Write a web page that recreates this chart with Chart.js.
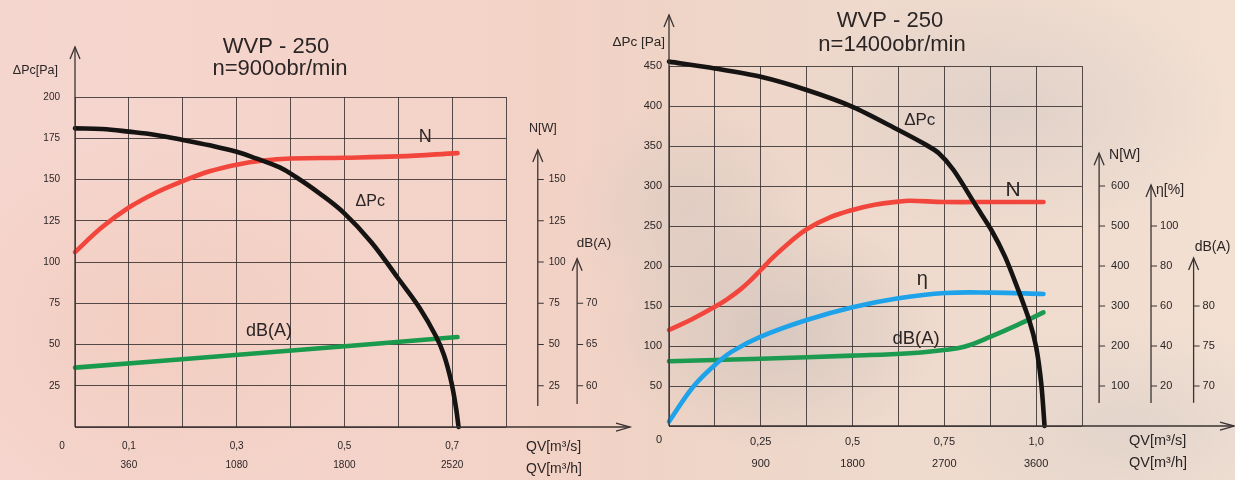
<!DOCTYPE html>
<html><head><meta charset="utf-8">
<script src="https://cdn.jsdelivr.net/npm/chart.js@4"></script>
<style>
html,body{margin:0;padding:0;}
body{width:1235px;height:480px;overflow:hidden;position:relative;font-family:"Liberation Sans",Arial,sans-serif;
background:
 radial-gradient(ellipse 170px 120px at 770px 330px, rgba(196,186,182,0.55), rgba(196,186,182,0) 100%),
 radial-gradient(ellipse 120px 110px at 690px 210px, rgba(205,195,190,0.45), rgba(205,195,190,0) 100%),
 radial-gradient(ellipse 220px 130px at 1010px 110px, rgba(208,198,194,0.5), rgba(208,198,194,0) 100%),
 radial-gradient(ellipse 200px 110px at 1130px 430px, rgba(212,203,198,0.5), rgba(212,203,198,0) 100%),
 radial-gradient(ellipse 260px 200px at 150px 330px, rgba(240,196,178,0.45), rgba(240,196,178,0) 100%),
 linear-gradient(90deg, #f5d6cf 0%, #f3d2c6 45%, #efd4c6 53%, #eed9cc 70%, #f2e0d3 100%);
}
canvas{position:absolute;top:0;}
#cl{left:0}
#cr{left:600px}
</style></head><body>
<canvas id="cl" width="640" height="480"></canvas>
<canvas id="cr" width="635" height="480"></canvas>
<script>
// ---------- Left panel: WVP-250, n=900 obr/min ----------
const leftQGrid = [0, 0.1, 0.2, 0.3, 0.4, 0.5, 0.6, 0.7, 0.8];
const leftQsLabels = ['', '0,1', '', '0,3', '', '0,5', '', '0,7', ''];
const leftQhLabels = ['', '360', '', '1080', '', '1800', '', '2520', ''];
const leftPaTicks = [0, 25, 50, 75, 100, 125, 150, 175, 200];
const leftNTicks = [25, 50, 75, 100, 125, 150];
const leftDbTicks = [60, 65, 70];
const leftPcQ = [0, 0.05, 0.1, 0.15, 0.2, 0.25, 0.3, 0.336, 0.38, 0.41, 0.45, 0.5, 0.55, 0.6, 0.64, 0.67, 0.685, 0.698, 0.707, 0.712];
const leftPc  = [181, 180.6, 179, 177, 174, 170.7, 166.8, 162.8, 157.3, 151.5, 142.5, 129.5, 112, 90, 72, 55, 43.5, 28, 12, 0];
const leftNQ = [0, 0.05, 0.1, 0.15, 0.2, 0.25, 0.3, 0.35, 0.4, 0.5, 0.6, 0.71];
const leftN  = [106, 121, 133, 142, 149, 155, 159, 161.5, 162.7, 163.2, 164, 166];
const leftDbQ = [0, 0.35, 0.71];
const leftDb  = [62.2, 64.0, 65.9];

// ---------- Right panel: WVP-250, n=1400 obr/min ----------
const rightQGrid = [0, 0.125, 0.25, 0.375, 0.5, 0.625, 0.75, 0.875, 1.0, 1.125];
const rightQsLabels = ['', '', '0,25', '', '0,5', '', '0,75', '', '1,0', ''];
const rightQhLabels = ['', '', '900', '', '1800', '', '2700', '', '3600', ''];
const rightPaTicks = [0, 50, 100, 150, 200, 250, 300, 350, 400, 450];
const rightNTicks = [100, 200, 300, 400, 500, 600];
const rightEtaTicks = [20, 40, 60, 80, 100];
const rightDbTicks = [70, 75, 80];
const rightPcQ = [0, 0.125, 0.25, 0.375, 0.5, 0.625, 0.694, 0.735, 0.775, 0.838, 0.878, 0.915, 0.948, 0.981, 1.0, 1.014, 1.023];
const rightPc  = [455.5, 447, 436.5, 420, 399, 370, 353, 341, 320, 274, 245, 212, 174, 132.5, 99, 53, 0];
const rightNQ = [0, 0.0625, 0.125, 0.16, 0.194, 0.22, 0.25, 0.284, 0.33, 0.375, 0.44, 0.5, 0.56, 0.625, 0.656, 0.75, 0.878, 1.02];
const rightN  = [240, 267, 298, 318, 341, 362, 390, 422, 460, 492, 522, 540, 553, 561, 563, 560, 560, 560];
const rightEtaQ = [0, 0.066, 0.125, 0.171, 0.25, 0.375, 0.5, 0.625, 0.753, 0.878, 1.02];
const rightEta  = [2.2, 19.6, 30.5, 37.2, 44.7, 53, 59.4, 63.9, 66.5, 66.7, 66];
const rightDbQ = [0, 0.25, 0.5, 0.656, 0.75, 0.804, 0.878, 0.948, 1.02];
const rightDb  = [73.1, 73.4, 73.8, 74.1, 74.5, 74.9, 76.2, 77.6, 79.2];

const pts = (xs, ys) => xs.map((x, i) => ({x: x, y: ys[i]}));
const FONT = '"Liberation Sans", Arial, sans-serif';
const GRID = 'rgba(55,48,48,0.85)';
const INK = '#2b2525';

function line(ctx, x1, y1, x2, y2) { ctx.beginPath(); ctx.moveTo(x1, y1); ctx.lineTo(x2, y2); ctx.stroke(); }
function arrowUp(ctx, x, y) { ctx.beginPath(); ctx.moveTo(x - 5, y + 12); ctx.lineTo(x, y); ctx.lineTo(x + 5, y + 12); ctx.stroke(); }
function arrowRight(ctx, x, y) { ctx.beginPath(); ctx.moveTo(x - 14, y - 4); ctx.lineTo(x, y); ctx.lineTo(x - 14, y + 4); ctx.stroke(); }

function decorPlugin(cfg) {
  return {
    id: 'decor',
    afterDraw(chart) {
      const ctx = chart.ctx, xs = chart.scales.x, ys = chart.scales.y;
      ctx.save();
      ctx.strokeStyle = '#3a3333'; ctx.lineWidth = 1.3; ctx.fillStyle = INK;
      const x0 = xs.getPixelForValue(0), y0 = ys.getPixelForValue(0);
      line(ctx, x0, y0, x0, cfg.yArrowTop); arrowUp(ctx, x0, cfg.yArrowTop);
      line(ctx, x0, y0, cfg.xArrowEnd, y0); arrowRight(ctx, cfg.xArrowEnd, y0);
      cfg.axes.forEach(a => {
        const sc = chart.scales[a.scale];
        const ax = xs.getPixelForValue(a.at);
        const yb = sc.getPixelForValue(a.from), yt = sc.getPixelForValue(a.to);
        ctx.lineWidth = 1.3;
        line(ctx, ax, yb, ax, yt); arrowUp(ctx, ax, yt);
        ctx.font = a.font + 'px ' + FONT; ctx.textAlign = 'left'; ctx.textBaseline = 'middle';
        a.ticks.forEach(t => {
          const py = sc.getPixelForValue(t);
          ctx.lineWidth = 1; line(ctx, ax, py, ax + 6, py);
          ctx.fillText(String(t), ax + a.gap, py);
        });
        ctx.font = a.tfont + 'px ' + FONT; ctx.textAlign = a.talign;
        ctx.fillText(a.title, ax + a.tdx, yt + a.tdy);
      });
      cfg.texts.forEach(t => {
        ctx.font = t.size + 'px ' + FONT; ctx.textAlign = t.align; ctx.textBaseline = 'middle';
        ctx.fillStyle = t.color || INK;
        ctx.fillText(t.text, t.x, t.y);
      });
      cfg.curveLabels.forEach(t => {
        ctx.font = t.size + 'px ' + FONT; ctx.textAlign = 'center'; ctx.textBaseline = 'middle';
        ctx.fillStyle = INK;
        ctx.fillText(t.text, xs.getPixelForValue(t.q), ys.getPixelForValue(t.pa));
      });
      ctx.restore();
    }
  };
}

function ds(label, data, color, axis, tension) {
  return {label, data, yAxisID: axis, borderColor: color, borderWidth: 4.6, pointRadius: 0, clip: false,
    tension: tension, capBezierPoints: false, fill: false, borderCapStyle: 'round', borderJoinStyle: 'round'};
}

function makeChart(id, o) {
  const scales = {
    x: {type: 'linear', min: o.xGrid[0], max: o.xGrid[o.xGrid.length - 1],
      afterBuildTicks: s => { s.ticks = o.xGrid.map(v => ({value: v})); },
      afterFit: s => { s.height = o.xHeight; },
      ticks: {autoSkip: false, maxRotation: 0, minRotation: 0, padding: o.xPad, color: INK,
        font: {family: FONT, size: o.xFont, lineHeight: o.xLine},
        callback: (v, i) => o.qs[i] ? [o.qs[i], o.qh[i]] : ''},
      grid: {color: GRID, lineWidth: 1, drawTicks: false}, border: {display: false}},
    y: {type: 'linear', min: o.yTicks[0], max: o.yTicks[o.yTicks.length - 1],
      afterBuildTicks: s => { s.ticks = o.yTicks.map(v => ({value: v})); },
      afterFit: s => { s.width = o.yWidth; },
      ticks: {padding: o.yPad, color: INK, font: {family: FONT, size: o.yFont},
        callback: v => v === 0 ? '' : String(v)},
      grid: {color: GRID, lineWidth: 1, drawTicks: false}, border: {display: false}}
  };
  Object.assign(scales, o.hidden);
  return new Chart(document.getElementById(id), {
    type: 'line',
    data: {datasets: o.datasets},
    options: {
      responsive: false, animation: false, devicePixelRatio: 1,
      layout: {padding: o.padding},
      plugins: {legend: {display: false}, tooltip: {enabled: false}, title: {display: false}},
      scales: scales
    },
    plugins: [decorPlugin(o.decor)]
  });
}

// Left chart: N[W] axis shares the Pa scale numerically; dB(A): 0 Pa -> 55, 200 Pa -> 95
makeChart('cl', {
  xGrid: leftQGrid, qs: leftQsLabels, qh: leftQhLabels, yTicks: leftPaTicks,
  xHeight: 53, yWidth: 75, xPad: 9.5, xFont: 10, xLine: 1.9, yPad: 15, yFont: 10,
  padding: {left: 0, right: 134, top: 97, bottom: 0},
  hidden: {
    yN: {display: false, min: 0, max: 200},
    yDb: {display: false, min: 55, max: 95}
  },
  datasets: [
    ds('ΔPc', pts(leftPcQ, leftPc), '#161313', 'y', 0.4),
    ds('N', pts(leftNQ, leftN), '#f2463d', 'yN', 0.4),
    ds('dB(A)', pts(leftDbQ, leftDb), '#199a4c', 'yDb', 0.3)
  ],
  decor: {
    yArrowTop: 47, xArrowEnd: 630,
    axes: [
      {scale: 'yN', at: 0.859, from: 12.7, to: 167.9, ticks: leftNTicks, font: 10, gap: 11, title: 'N[W]', tfont: 12.5, talign: 'center', tdx: 5, tdy: -21},
      {scale: 'yDb', at: 0.932, from: 57.8, to: 75.4, ticks: leftDbTicks, font: 10, gap: 9, title: 'dB(A)', tfont: 13.5, talign: 'center', tdx: 17, tdy: -15}
    ],
    texts: [
      {text: 'WVP - 250', x: 276, y: 47, size: 22, align: 'center'},
      {text: 'n=900obr/min', x: 280, y: 69, size: 22, align: 'center'},
      {text: 'ΔPc[Pa]', x: 58, y: 71, size: 12.5, align: 'right'},
      {text: '0', x: 62, y: 446, size: 10, align: 'center'},
      {text: 'QV[m³/s]', x: 526, y: 447, size: 14, align: 'left'},
      {text: 'QV[m³/h]', x: 526, y: 469, size: 14, align: 'left'}
    ],
    curveLabels: [
      {text: 'N', q: 0.65, pa: 175.5, size: 18},
      {text: 'ΔPc', q: 0.548, pa: 136.5, size: 16},
      {text: 'dB(A)', q: 0.36, pa: 58, size: 18}
    ]
  }
});

// Right chart: N[W] = 2*Pa, η[%] = 0.4*Pa, dB(A) = 65 + Pa/10
makeChart('cr', {
  xGrid: rightQGrid, qs: rightQsLabels, qh: rightQhLabels, yTicks: rightPaTicks,
  xHeight: 54, yWidth: 69, xPad: 5, xFont: 11, xLine: 2, yPad: 7, yFont: 11,
  padding: {left: 0, right: 153, top: 66, bottom: 0},
  hidden: {
    yN: {display: false, min: 0, max: 900},
    yEta: {display: false, min: 0, max: 180},
    yDb: {display: false, min: 65, max: 110}
  },
  datasets: [
    ds('ΔPc', pts(rightPcQ, rightPc), '#161313', 'y', 0.3),
    ds('N', pts(rightNQ, rightN), '#f2463d', 'yN', 0.4),
    ds('η', pts(rightEtaQ, rightEta), '#1ea2ea', 'yEta', 0.4),
    ds('dB(A)', pts(rightDbQ, rightDb), '#1b9a50', 'yDb', 0.4)
  ],
  decor: {
    yArrowTop: 15, xArrowEnd: 634,
    axes: [
      {scale: 'yN', at: 1.1716, from: 57.5, to: 682, ticks: rightNTicks, font: 11, gap: 12, title: 'N[W]', tfont: 14, talign: 'left', tdx: 10, tdy: 2},
      {scale: 'yEta', at: 1.313, from: 11.5, to: 120.5, ticks: rightEtaTicks, font: 11, gap: 9, title: 'η[%]', tfont: 14, talign: 'left', tdx: 5, tdy: 5},
      {scale: 'yDb', at: 1.429, from: 67.9, to: 86, ticks: rightDbTicks, font: 11, gap: 9, title: 'dB(A)', tfont: 14, talign: 'center', tdx: 19, tdy: -11}
    ],
    texts: [
      {text: 'WVP - 250', x: 290, y: 21, size: 22, align: 'center'},
      {text: 'n=1400obr/min', x: 292, y: 45, size: 22, align: 'center'},
      {text: 'ΔPc [Pa]', x: 65, y: 42, size: 13.5, align: 'right'},
      {text: '0', x: 59, y: 440, size: 11, align: 'center'},
      {text: 'QV[m³/s]', x: 529, y: 441, size: 14.5, align: 'left'},
      {text: 'QV[m³/h]', x: 529, y: 463, size: 14.5, align: 'left'}
    ],
    curveLabels: [
      {text: 'ΔPc', q: 0.683, pa: 382, size: 17},
      {text: 'N', q: 0.937, pa: 295, size: 21},
      {text: 'η', q: 0.69, pa: 183, size: 20},
      {text: 'dB(A)', q: 0.673, pa: 109, size: 18.5}
    ]
  }
});
</script>
</body></html>
